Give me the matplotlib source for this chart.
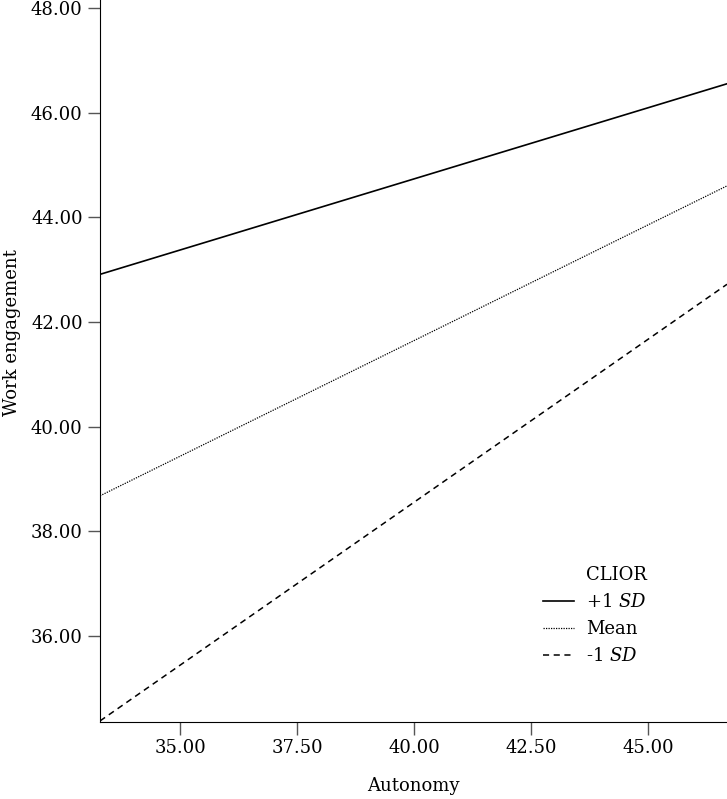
import numpy as np
import matplotlib.pyplot as plt
from matplotlib.lines import Line2D

plt.rcParams['font.family'] = ['DejaVu Serif']
plt.rcParams['mathtext.fontset'] = 'dejavuserif'

# Данные
autonomy = [33.29, 46.69]
high_sd = [42.91, 46.55]
mean_vals = [38.68, 44.60]
low_sd = [34.38, 42.72]

x_ticks = [35.00, 37.50, 40.00, 42.50, 45.00]
y_ticks = [36.00, 38.00, 40.00, 42.00, 44.00, 46.00, 48.00]

fig = plt.figure(figsize=(7.27, 7.99), dpi=100)
ax = fig.add_axes([0.1376, 0.0964, 1 - 0.1376, 1 - 0.0964])

ax.plot(autonomy, high_sd, color='black', linewidth=1.2, label='+1 $\\it{SD}$')
ax.plot(autonomy, mean_vals, color='black', linewidth=0.9, linestyle=(0, (1, 1)), label='Mean')
ax.plot(autonomy, low_sd, color='black', linewidth=1.1, linestyle=(0, (4, 3)), label='-1 $\\it{SD}$')

ax.set_xlim(autonomy[0], autonomy[1])
ax.set_ylim(34.36, 48.15)
ax.set_xticks(x_ticks)
ax.set_xticklabels([f'{v:.2f}' for v in x_ticks])
ax.set_yticks(y_ticks)
ax.set_yticklabels([f'{v:.2f}' for v in y_ticks])

ax.spines['top'].set_visible(False)
ax.spines['right'].set_visible(False)
ax.tick_params(axis='both', direction='out', length=9, width=1, color='#555555', labelsize=13)

ax.set_xlabel('Autonomy', fontsize=13, labelpad=14)
ax.set_ylabel('Work engagement', fontsize=13)
ax.yaxis.set_label_coords(-0.126, 0.54)

# заголовок легенды как отдельная строка без маркера, чтобы он стоял над подписями
handles, labels = ax.get_legend_handles_labels()
handles = [Line2D([], [], color='none')] + handles
labels = ['CLIOR'] + labels
ax.legend(handles, labels, loc='upper left', bbox_to_anchor=(543 / 727, 1 - 566 / 799),
          bbox_transform=fig.transFigure, frameon=False, fontsize=13,
          handlelength=1.7, handletextpad=0.7, labelspacing=0.5,
          borderpad=0, borderaxespad=0)

plt.savefig('out.png', dpi=100)
